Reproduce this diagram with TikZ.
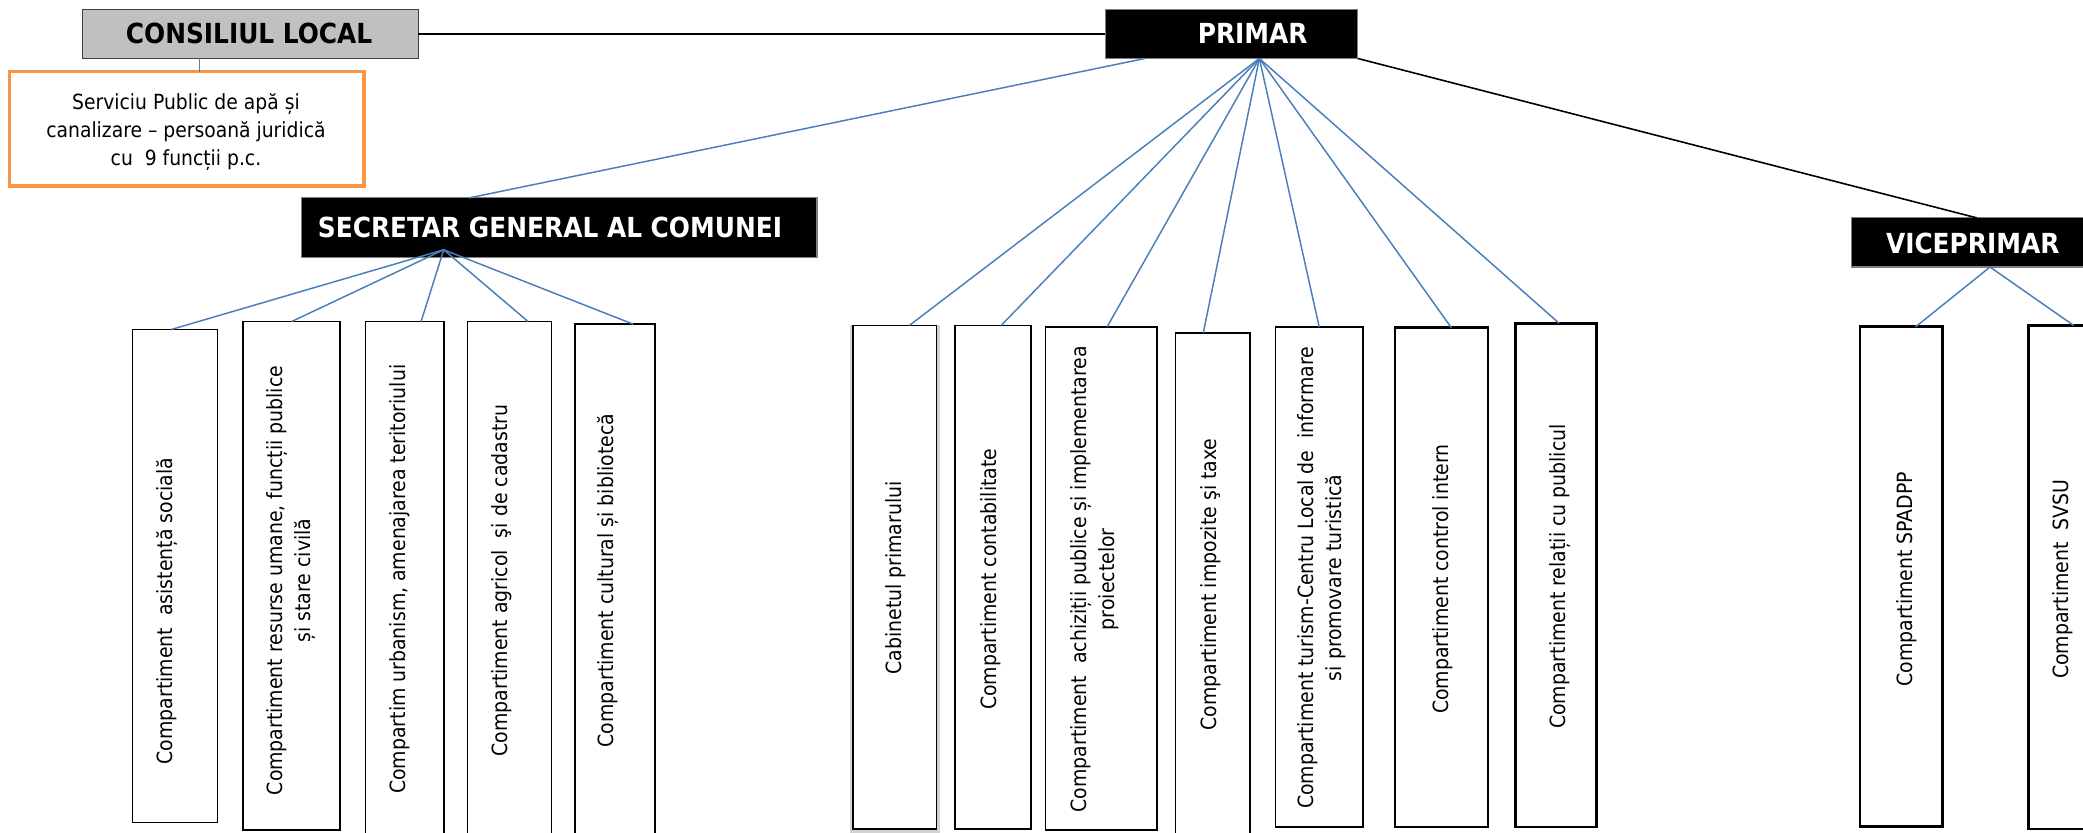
\documentclass[tikz,border=0pt]{standalone}
\usepackage{fontspec}
\setmainfont{DejaVu Sans Condensed}
\definecolor{lnblue}{HTML}{4A7EBB}
\definecolor{orng}{HTML}{F79646}
\definecolor{clgray}{HTML}{C0C0C0}
\newcommand\orgbox[6]{%
  \node[#6, minimum width={(#3)-(#2)}, minimum height={(#5)-(#4)}] (#1) at ({((#2)+(#3))/2},{((#4)+(#5))/2}) {};}
\tikzset{
  unitbox/.style={draw=black, fill=white, line width=1.2pt, inner sep=0pt, outer sep=0pt},
  thinbox/.style={unitbox, line width=0.8pt},
  thickbox/.style={unitbox, line width=2pt},
  headbox/.style={fill=black, draw=gray, line width=0.8pt, inner sep=0pt, outer sep=0pt},
  cltbox/.style={fill=clgray, draw=black!75, line width=1pt, inner sep=0pt, outer sep=0pt},
  orgbx/.style={draw=orng, fill=white, line width=2.6pt, inner sep=0pt, outer sep=0pt},
  headtext/.style={text=white, font=\fontsize{20.8}{23}\selectfont\bfseries, inner sep=0pt},
  vtext/.style={rotate=90, align=center, font=\fontsize{15.8}{21.5}\selectfont, inner sep=0pt},
  bl/.style={draw=lnblue, line width=1.1pt},
  blk/.style={draw=black, line width=1.2pt},
}
\begin{document}
\begin{tikzpicture}[x=1pt,y=-1pt]
\fill[white] (0,0) rectangle (1568,627);
\useasboundingbox (0,0) rectangle (1568,627);

% top level
\orgbox{CL}{62}{315}{7}{44}{cltbox}
\node[headtext, text=black] (CLt) at (187.5,25.5) {CONSILIUL LOCAL};
\orgbox{PR}{832}{1022}{7}{44}{headbox}
\node[headtext] (PRt) at (943,25.5) {PRIMAR};
\orgbox{OR}{7}{274}{54}{140}{orgbx}
\node[align=center, font=\fontsize{15.7}{21}\selectfont, inner sep=0pt] (ORt) at (140,99.5)
  {Serviciu Public de apă și\\canalizare – persoană juridică\\cu\ \ 9 funcții p.c.};
\orgbox{SG}{227}{615}{149}{194}{headbox}
\node[headtext] (SGt) at (414,171.5) {SECRETAR GENERAL AL COMUNEI};
\orgbox{VP}{1394}{1580}{164}{201}{headbox}
\node[headtext] (VPt) at (1485,183) {VICEPRIMAR};

% boxes under secretar
\orgbox{s1}{100}{163.5}{248}{619.3}{thinbox}
\orgbox{s2}{183}{256}{242}{625}{unitbox}
\orgbox{s3}{275}{334}{242}{632}{unitbox}
\orgbox{s4}{352}{415}{242}{632}{unitbox}
\orgbox{s5}{433}{493}{244}{632}{unitbox}
% boxes under primar
\draw[gray!35, line width=2.5pt] (641,246) rectangle (706,625.5);
\orgbox{p1}{642}{705}{245}{624}{unitbox}
\orgbox{p2}{719}{776}{245}{624}{unitbox}
\orgbox{p3}{787}{871}{246}{625}{unitbox}
\orgbox{p4}{885}{941}{250.5}{632}{unitbox}
\orgbox{p5}{960}{1026}{246}{622.5}{unitbox}
\orgbox{p6}{1050}{1120}{246.7}{622.5}{thickbox}
\orgbox{p7}{1141}{1202}{243.3}{622.5}{thickbox}
% boxes under viceprimar
\orgbox{v1}{1400}{1462}{246}{622}{thickbox}
\orgbox{v2}{1527}{1580}{245}{624}{thickbox}

% texts
\node[vtext] (s1t) at (126,460) {Compartiment\ \ asistență socială};
\node[vtext] (s2t) at (219,437) {Compartiment resurse umane, funcții publice\\și stare civilă};
\node[vtext] (s3t) at (301,436) {Compartim urbanism, amenajarea teritoriului};
\node[vtext] (s4t) at (378,437) {Compartiment agricol\ \ şi de cadastru};
\node[vtext] (s5t) at (458,437) {Compartiment cultural și bibliotecă};
\node[vtext] (p1t) at (674.5,435) {Cabinetul primarului};
\node[vtext] (p2t) at (746,436) {Compartiment contabilitate};
\node[vtext] (p3t) at (824,436) {Compartiment\ \ achiziții publice și implementarea\\proiectelor};
\node[vtext] (p4t) at (911,440) {Compartiment impozite şi taxe};
\node[vtext] (p5t) at (995,435) {Compartiment turism-Centru Local de\ \ informare\\si promovare turistică};
\node[vtext] (p6t) at (1086,436) {Compartiment control intern};
\node[vtext] (p7t) at (1174.6,434) {Compartiment relații cu publicul};
\node[vtext] (v1t) at (1435,436) {Compartiment SPADPP};
\node[vtext] (v2t) at (1553,436) {Compartiment\ \ SVSU};

% connectors between heads
\draw[black, line width=1.5pt] (CL.east) -- (PR.west);
\coordinate (clb) at ([xshift=88pt]CL.south west);
\draw[bl] (clb) -- (clb |- OR.north);
\draw[bl] ([xshift=30pt]PR.south west) -- ([xshift=126pt]SG.north west);
\draw[blk] (PR.south east) -- ([xshift=94pt]VP.north west);

% fans
\coordinate (pa) at ([xshift=116pt]PR.south west);
\coordinate (sa) at ([xshift=107pt,yshift=6pt]SG.south west);
\coordinate (va) at ([xshift=104pt]VP.south west);

\draw[bl] (sa) -- ([xshift=29pt]s1.north west);
\draw[bl] (sa) -- ([xshift=36.6pt]s2.north west);
\draw[bl] (sa) -- ([xshift=42pt]s3.north west);
\draw[bl] (sa) -- ([xshift=45.5pt]s4.north west);
\draw[bl] (sa) -- ([xshift=43.6pt]s5.north west);

\draw[bl] (pa) -- ([xshift=42.5pt]p1.north west);
\draw[bl] (pa) -- ([xshift=34.6pt]p2.north west);
\draw[bl] (pa) -- ([xshift=46.4pt]p3.north west);
\draw[bl] (pa) -- ([xshift=20.8pt]p4.north west);
\draw[bl] (pa) -- ([xshift=33pt]p5.north west);
\draw[bl] (pa) -- ([xshift=42.5pt]p6.north west);
\draw[bl] (pa) -- ([xshift=32.6pt]p7.north west);

\draw[bl] (va) -- ([xshift=42pt]v1.north west);
\draw[bl] (va) -- ([xshift=34pt]v2.north west);
\end{tikzpicture}
\end{document}
